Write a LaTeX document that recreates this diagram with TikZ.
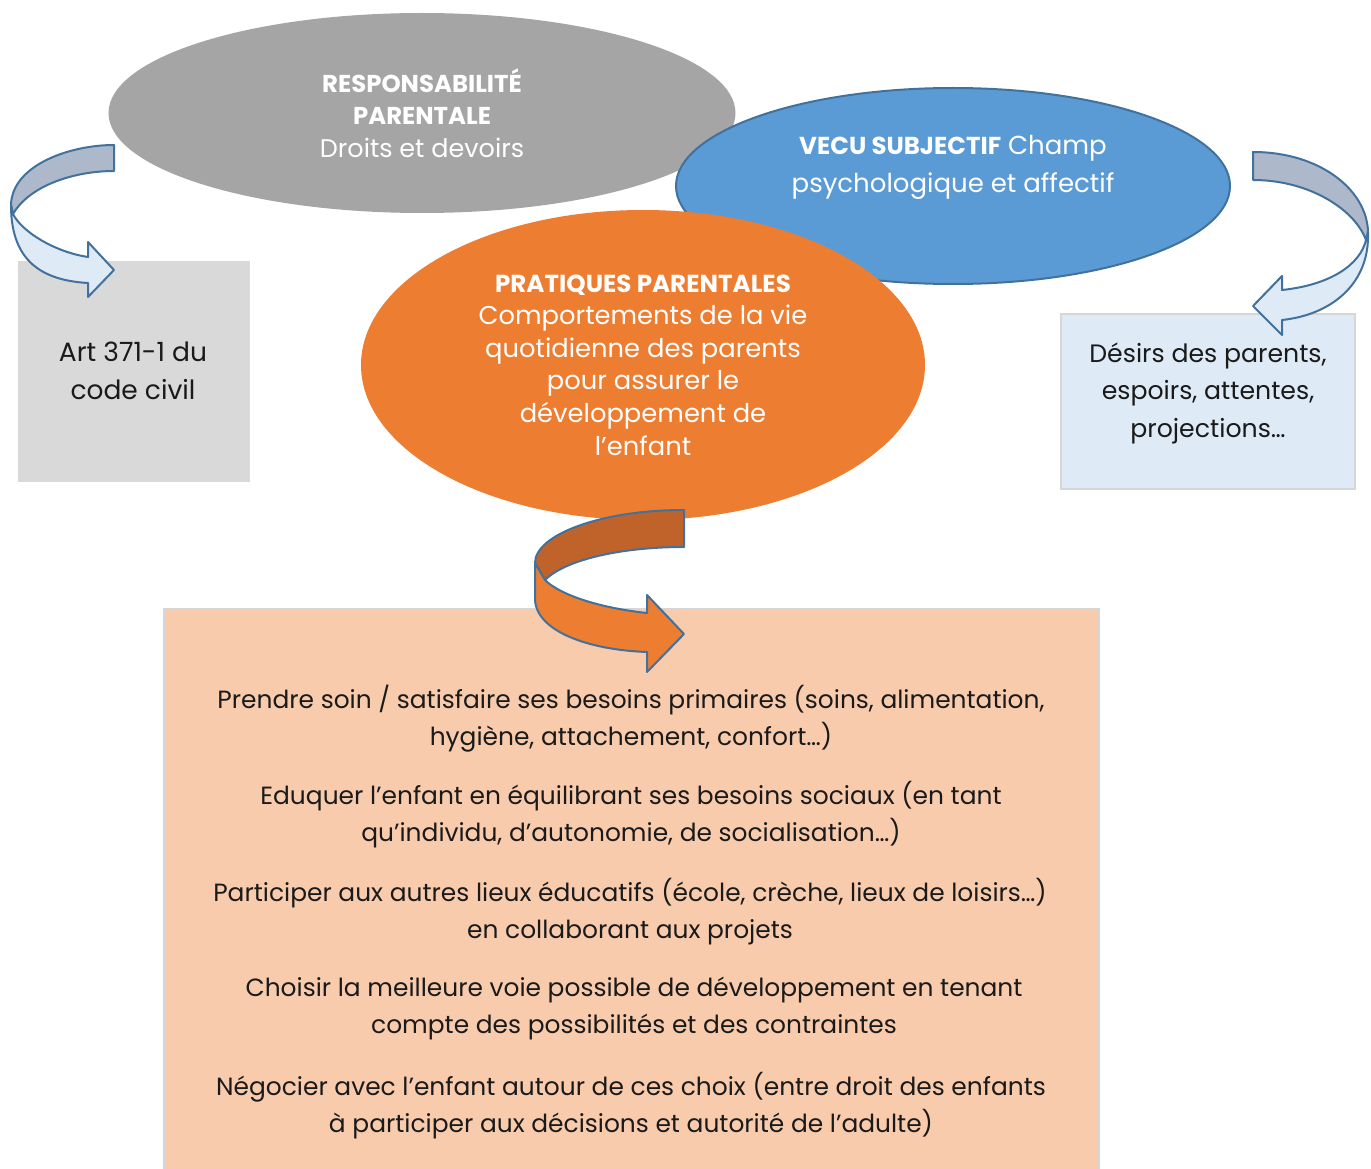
\documentclass[tikz,border=0pt]{standalone}
\usepackage{fontspec}
\setmainfont{Poppins}
\usetikzlibrary{shapes.geometric}
\definecolor{ellgray}{HTML}{A5A5A5}
\definecolor{ellblue}{HTML}{5B9BD5}
\definecolor{ellborder}{HTML}{41719C}
\definecolor{ellorange}{HTML}{ED7D31}
\definecolor{darkorange}{HTML}{C0632A}
\definecolor{boxgray}{HTML}{D9D9D9}
\definecolor{boxblue}{HTML}{DEEBF7}
\definecolor{boxpeach}{HTML}{F8CBAD}
\definecolor{bandgray}{HTML}{ADB9CA}
\definecolor{boxedge}{HTML}{D6D6D6}
\definecolor{txt}{HTML}{1A1A1A}
\tikzset{
  ell/.style={ellipse, inner sep=0pt, text=white, align=center},
  bodytxt/.style={align=center, text=txt, font=\fontsize{24.9}{37}\selectfont, inner sep=0pt},
  band/.style={draw=ellborder, line width=2pt, line join=round},
}
\begin{document}
\begin{tikzpicture}[x=1pt,y=-1pt]
\useasboundingbox (0,0) rectangle (1371,1169);
% boxes
\node[draw=boxgray, fill=boxgray, minimum width=231pt, minimum height=220pt, inner sep=0pt] (artbox) at (133.5,371) {};
\node[draw=boxedge, line width=2pt, fill=boxblue, minimum width=294pt, minimum height=175pt, inner sep=0pt] (desbox) at (1208,401.5) {};
\node[draw=boxedge, line width=2pt, fill=boxpeach, minimum width=935pt, minimum height=575pt, inner sep=0pt, anchor=north west] (pracbox) at (163,608) {};
% ellipses
\node[ell, fill=ellgray, minimum width=627pt, minimum height=200pt, font=\fontsize{25.5}{32.5}\selectfont] (resp) at (422,113)
  {{\fontsize{24.4}{32.5}\selectfont\textbf{RESPONSABILITÉ}}\\{\fontsize{24.4}{32.5}\selectfont\textbf{PARENTALE}}\\Droits et devoirs};
\node[ell, fill=ellblue, draw=ellborder, line width=2pt, minimum width=554pt, minimum height=196pt] (vecu) at (953,186) {};
\node[align=center, text=white, font=\fontsize{26}{38}\selectfont] (vecut) at (953,167)
  {{\fontsize{24.5}{38}\selectfont\textbf{VECU SUBJECTIF}} Champ\\psychologique et affectif};
\node[ell, fill=ellorange, minimum width=564pt, minimum height=310pt, font=\fontsize{25.8}{32.6}\selectfont] (prat) at (643,365)
  {{\fontsize{24.6}{32.6}\selectfont\textbf{PRATIQUES PARENTALES}}\\Comportements de la vie\\quotidienne des parents\\pour assurer le\\développement de\\l’enfant};
% box texts
\node[bodytxt, font=\fontsize{26.5}{38}\selectfont] (artt) at (133,371) {Art 371-1 du\\code civil};
\node[bodytxt, font=\fontsize{25.2}{37.5}\selectfont] (dest) at (1208,393) {Désirs des parents,\\espoirs, attentes,\\projections…};
\node[bodytxt] (p1) at (631,719) {Prendre soin / satisfaire ses besoins primaires (soins, alimentation,\\hygiène, attachement, confort…)};
\node[bodytxt] (p2) at (631,815) {Eduquer l’enfant en équilibrant ses besoins sociaux (en tant\\qu’individu, d’autonomie, de socialisation…)};
\node[bodytxt] (p3) at (630,912) {Participer aux autres lieux éducatifs (école, crèche, lieux de loisirs…)\\en collaborant aux projets};
\node[bodytxt] (p4) at (634,1008) {Choisir la meilleure voie possible de développement en tenant\\compte des possibilités et des contraintes};
\node[bodytxt] (p5) at (631,1106) {Négocier avec l’enfant autour de ces choix (entre droit des enfants\\à participer aux décisions et autorité de l’adulte)};
% left curved arrow
\draw[band, fill=bandgray] (114,145) .. controls (70,145) and (12,165) .. (11,205) -- (13,214)
   .. controls (30,185) and (75,171) .. (114,171) -- cycle;
\draw[band, fill=boxblue] (11,205) .. controls (11,255) and (35,280) .. (88,283) -- (88,297) -- (114,270) -- (88,242) -- (88,257)
   .. controls (55,252) and (22,232) .. (13,214) -- cycle;
% right curved arrow
\draw[band, fill=bandgray] (1253,152) .. controls (1320,152) and (1367,190) .. (1368,232) -- (1366,240)
   .. controls (1355,210) and (1310,180) .. (1253,180) -- cycle;
\draw[band, fill=boxblue] (1368,232) .. controls (1370,285) and (1330,315) .. (1282,320) -- (1282,335) -- (1253,306) -- (1282,276) -- (1282,290)
   .. controls (1330,285) and (1360,265) .. (1366,240) -- cycle;
% middle curved arrow
\draw[band, fill=darkorange] (684,510) .. controls (600,510) and (535,535) .. (535,563) -- (545,580)
   .. controls (565,560) and (620,547) .. (684,547) -- cycle;
\draw[band, fill=ellorange] (535,563) -- (535,600) .. controls (537,632) and (590,650) .. (647,652) -- (647,672) -- (684,634) -- (647,595) -- (647,613)
   .. controls (600,608) and (560,595) .. (545,580) -- cycle;
\end{tikzpicture}
\end{document}
